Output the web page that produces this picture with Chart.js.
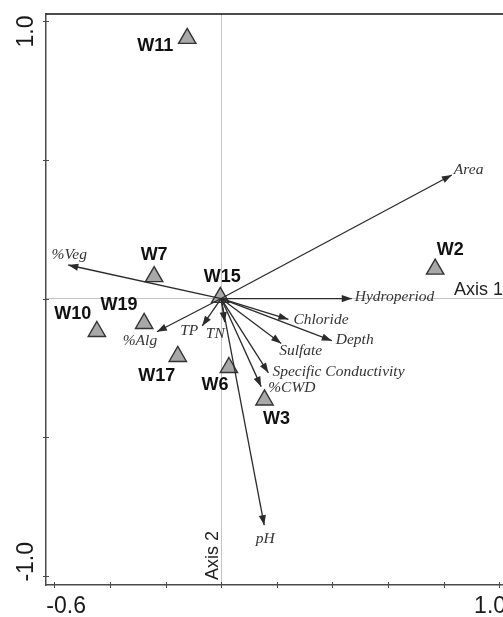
<!DOCTYPE html>
<html>
<head>
<meta charset="utf-8">
<title>Ordination biplot</title>
<script src="https://cdn.jsdelivr.net/npm/chart.js@4.4.1/dist/chart.umd.min.js"></script>
<style>
  html, body { margin: 0; padding: 0; background: #fff; }
</style>
</head>
<body>
<canvas id="chart" width="503" height="617"></canvas>
<script>
// site scores (axis 1, axis 2)
const siteNames = ['W11', 'W7', 'W15', 'W10', 'W19', 'W17', 'W6', 'W3', 'W2'];
const siteX = [-0.122, -0.241, -0.003, -0.447, -0.277, -0.156, 0.028, 0.156, 0.770];
const siteY = [0.939, 0.079, 0.004, -0.119, -0.090, -0.209, -0.249, -0.366, 0.106];

// environmental vectors (arrow tips, drawn from the origin)
const varNames = ['Area', '%Veg', 'Hydroperiod', 'Chloride', 'Depth', 'Sulfate',
  'Specific Conductivity', '%CWD', 'pH', 'TN', 'TP', '%Alg'];
const varX = [0.830, -0.550, 0.470, 0.242, 0.398, 0.216, 0.170, 0.144, 0.155, 0.013, -0.068, -0.231];
const varY = [0.446, 0.121, 0.000, -0.075, -0.152, -0.162, -0.268, -0.318, -0.818, -0.085, -0.099, -0.120];

// axes
const xTickValues = [-0.6, -0.4, -0.2, 0, 0.2, 0.4, 0.6, 0.8, 1.0];
const xTickLabels = ['-0.6', '', '', '', '', '', '', '', '1.0'];
const yTickValues = [-1.0, -0.5, 0, 0.5, 1.0];
const yTickLabels = ['-1.0', '', '', '', '1.0'];

// label placement (px from the mark)
const siteLabelPos = {
  W11: [-32, 7.5], W7: [0, -21.5], W15: [2, -20.5], W10: [-24, -17.5], W19: [-25, -18.5],
  W17: [-21, 19.5], W6: [-14, 17.5], W3: [12, 19.5], W2: [15, -19.5]
};
const varLabelPos = {
  'Area': [2, -5, 'left'], '%Veg': [1, -10, 'center'], 'Hydroperiod': [3, -2, 'left'],
  'Chloride': [5, 1, 'left'], 'Depth': [4, -1, 'left'], 'Sulfate': [-2, 8, 'left'],
  'Specific Conductivity': [4, -1, 'left'], '%CWD': [7, 1, 'left'], 'pH': [1, 14, 'center'],
  'TN': [-9.5, 12, 'center'], 'TP': [-13, 5, 'center'], '%Alg': [-17, 9, 'center']
};

const SANS = '"Liberation Sans", Arial, sans-serif';
const SERIF = '"Liberation Serif", "Times New Roman", serif';

function arrowHead(ctx, x0, y0, x1, y1, len, half) {
  const a = Math.atan2(y1 - y0, x1 - x0);
  const c = Math.cos(a), s = Math.sin(a);
  ctx.beginPath();
  ctx.moveTo(x1, y1);
  ctx.lineTo(x1 - len * c + half * s, y1 - len * s - half * c);
  ctx.lineTo(x1 - len * c - half * s, y1 - len * s + half * c);
  ctx.closePath();
  ctx.fill();
}

const biplotDecor = {
  id: 'biplotDecor',
  afterDatasetsDraw(chart) {
    const ctx = chart.ctx;
    const xs = chart.scales.x, ys = chart.scales.y;
    const area = chart.chartArea;
    const ox = xs.getPixelForValue(0), oy = ys.getPixelForValue(0);

    ctx.save();
    // arrow heads + variable labels
    ctx.fillStyle = '#2b2b2b';
    varNames.forEach((n, i) => {
      const px = xs.getPixelForValue(varX[i]), py = ys.getPixelForValue(varY[i]);
      arrowHead(ctx, ox, oy, px, py, 10, 3.6);
    });
    ctx.font = 'italic 15.5px ' + SERIF;
    ctx.textBaseline = 'middle';
    ctx.fillStyle = '#333';
    varNames.forEach((n, i) => {
      const p = varLabelPos[n];
      ctx.textAlign = p[2];
      ctx.fillText(n, xs.getPixelForValue(varX[i]) + p[0], ys.getPixelForValue(varY[i]) + p[1]);
    });

    // site labels
    ctx.font = 'bold 18px ' + SANS;
    ctx.textAlign = 'center';
    ctx.fillStyle = '#111';
    siteNames.forEach((n, i) => {
      const p = siteLabelPos[n];
      ctx.fillText(n, xs.getPixelForValue(siteX[i]) + p[0], ys.getPixelForValue(siteY[i]) + p[1]);
    });

    // axis names on the zero lines
    ctx.font = '18px ' + SANS;
    ctx.fillStyle = '#222';
    ctx.textBaseline = 'alphabetic';
    ctx.textAlign = 'left';
    ctx.fillText('Axis 1', area.right - 49, oy - 4);
    ctx.save();
    ctx.translate(ox - 3, area.bottom - 5);
    ctx.rotate(-Math.PI / 2);
    ctx.fillText('Axis 2', 0, 0);
    ctx.restore();

    // top frame line
    ctx.strokeStyle = '#111';
    ctx.lineWidth = 1.6;
    ctx.beginPath();
    ctx.moveTo(area.left, area.top);
    ctx.lineTo(area.right, area.top);
    ctx.stroke();

    // tick marks crossing the axes
    ctx.strokeStyle = '#4a4a4a';
    ctx.lineWidth = 1;
    xTickValues.forEach(v => {
      const px = Math.round(xs.getPixelForValue(v)) + 0.5;
      ctx.beginPath();
      ctx.moveTo(px, area.bottom - 3);
      ctx.lineTo(px, area.bottom + 3);
      ctx.stroke();
    });
    yTickValues.forEach(v => {
      const py = Math.round(ys.getPixelForValue(v)) + 0.5;
      ctx.beginPath();
      ctx.moveTo(area.left - 3, py);
      ctx.lineTo(area.left + 3, py);
      ctx.stroke();
    });

    // tick labels
    ctx.font = '23px ' + SANS;
    ctx.fillStyle = '#1a1a1a';
    xTickValues.forEach((v, i) => {
      if (!xTickLabels[i]) return;
      const px = xs.getPixelForValue(v);
      if (i === 0) { ctx.textAlign = 'left'; ctx.fillText(xTickLabels[i], px - 8, area.bottom + 28); }
      else { ctx.textAlign = 'left'; ctx.fillText(xTickLabels[i], px - 25, area.bottom + 28); }
    });
    yTickValues.forEach((v, i) => {
      if (!yTickLabels[i]) return;
      const py = ys.getPixelForValue(v);
      ctx.save();
      ctx.translate(area.left - 13, v > 0 ? py - 6 : py + 6);
      ctx.rotate(-Math.PI / 2);
      ctx.textAlign = v > 0 ? 'right' : 'left';
      ctx.fillText(yTickLabels[i], 0, 0);
      ctx.restore();
    });
    ctx.restore();
  }
};

const vectorSets = varNames.map((n, i) => ({
  label: n,
  data: [{ x: 0, y: 0 }, { x: varX[i], y: varY[i] }],
  showLine: true,
  borderColor: '#2b2b2b',
  borderWidth: 1.3,
  pointRadius: 0,
  order: 0
}));

const siteSet = {
  label: 'Sites',
  data: siteNames.map((n, i) => ({ x: siteX[i], y: siteY[i] })),
  pointStyle: 'triangle',
  pointRadius: 10,
  backgroundColor: '#a8a8a8',
  borderColor: '#333',
  borderWidth: 1.4,
  order: 1
};

const zeroGrid = c => (c.tick && c.tick.value === 0 ? '#c4c4c4' : 'rgba(0,0,0,0)');

new Chart(document.getElementById('chart'), {
  type: 'scatter',
  data: { datasets: [siteSet].concat(vectorSets) },
  options: {
    responsive: false,
    animation: false,
    devicePixelRatio: 1,
    layout: { autoPadding: false, padding: { top: 14, right: 0, bottom: 0, left: 0 } },
    plugins: { legend: { display: false }, tooltip: { enabled: false } },
    scales: {
      x: {
        type: 'linear', min: -0.630, max: 1.014,
        afterBuildTicks: s => { s.ticks = xTickValues.map(v => ({ value: v })); },
        afterFit: s => { s.height = 32; },
        grid: { color: zeroGrid, lineWidth: 1, drawTicks: false },
        border: { color: '#4a4a4a', width: 1.5 },
        ticks: { display: false }
      },
      y: {
        type: 'linear', min: -1.034, max: 1.027,
        afterBuildTicks: s => { s.ticks = yTickValues.map(v => ({ value: v })); },
        afterFit: s => { s.width = 46; },
        grid: { color: zeroGrid, lineWidth: 1, drawTicks: false },
        border: { color: '#4a4a4a', width: 1.5 },
        ticks: { display: false }
      }
    }
  },
  plugins: [biplotDecor]
});
</script>
</body>
</html>
